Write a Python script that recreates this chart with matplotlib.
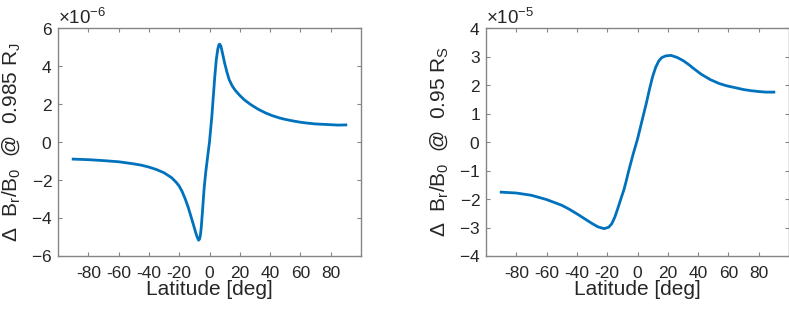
import numpy as np
import matplotlib
matplotlib.use('Agg')
import matplotlib.pyplot as plt
from matplotlib.ticker import ScalarFormatter

plt.rcParams['font.family'] = ['Liberation Sans', 'DejaVu Sans']
plt.rcParams['mathtext.fontset'] = 'custom'
plt.rcParams['mathtext.rm'] = 'Liberation Sans'
plt.rcParams['mathtext.it'] = 'Liberation Sans'
plt.rcParams['mathtext.default'] = 'regular'
plt.rcParams['axes.unicode_minus'] = False

LINE_COL = '#0072BD'
SPINE_COL = '#858585'
TEXT_COL = '#262626'

# Jupiter, dBr/B0 at 0.985 RJ (units of 1e-6)
lat_j = [-90, -80, -70, -60, -50, -45, -40, -35, -30, -25, -22, -20, -18, -16,
         -14, -12, -10, -9, -8, -7.2, -6.5, -6, -5.5, -4.5, -3.5, -2.5, -1.5,
         -0.5, 0, 0.5, 1.5, 2.5, 3.5, 4.5, 5.5, 6.2, 6.7, 7.5, 8.5, 10, 11.5,
         13, 15, 17, 20, 23, 27, 32, 37, 41, 46, 50, 55, 60, 65, 70, 75, 80,
         85, 90]
dbr_j = [-0.90, -0.93, -0.98, -1.04, -1.15, -1.22, -1.32, -1.45, -1.62, -1.88,
         -2.12, -2.32, -2.62, -3.00, -3.45, -3.98, -4.52, -4.80, -5.03, -5.17,
         -5.10, -4.90, -4.55, -3.50, -2.40, -1.60, -0.95, -0.30, 0.0, 0.45,
         1.30, 2.38, 3.45, 4.35, 4.90, 5.12, 5.15, 5.05, 4.70, 4.15, 3.68,
         3.28, 2.95, 2.72, 2.45, 2.22, 1.98, 1.73, 1.53, 1.40, 1.27, 1.19,
         1.11, 1.04, 0.99, 0.95, 0.93, 0.91, 0.89, 0.90]

# Saturn, dBr/B0 at 0.95 RS (units of 1e-5)
lat_s = [-90, -80, -70, -60, -50, -45, -40, -35, -30, -26, -22, -19, -17, -15,
         -13, -11, -9, -7.5, -6, -3, 0, 3, 6, 8, 10, 12, 14, 16, 18.5, 22, 26,
         30, 34, 37, 42, 48, 54, 59, 65, 70, 75, 80, 85, 90]
dbr_s = [-1.76, -1.79, -1.87, -2.02, -2.22, -2.36, -2.52, -2.69, -2.86, -2.98,
         -3.04, -2.99, -2.87, -2.64, -2.33, -2.00, -1.68, -1.38, -1.05, -0.45,
         0.10, 0.75, 1.40, 1.87, 2.30, 2.62, 2.84, 2.96, 3.02, 3.04, 2.97,
         2.86, 2.71, 2.58, 2.38, 2.19, 2.05, 1.97, 1.90, 1.84, 1.80, 1.77,
         1.75, 1.75]

panels = [
    (lat_j, np.array(dbr_j) * 1e-6, 6e-6, 2e-6, 'Δ  B$_r$/B$_0$  @  0.985 R$_J$'),
    (lat_s, np.array(dbr_s) * 1e-5, 4e-5, 1e-5, 'Δ  B$_r$/B$_0$  @  0.95 R$_S$'),
]

fig = plt.figure(figsize=(7.89, 3.10), dpi=100)
lefts = [58 / 789, 486 / 789]

for left, (lat, dbr, ymax, ystep, ylab) in zip(lefts, panels):
    ax = fig.add_axes([left, 54 / 310, 303 / 789, 228 / 310])
    ax.plot(lat, dbr, color=LINE_COL, linewidth=2.0)
    ax.set_xlim(-100, 100)
    ax.set_ylim(-ymax, ymax)
    ax.set_xticks(np.arange(-80, 81, 20))
    ax.set_yticks(np.arange(-ymax, ymax + ystep / 2, ystep))

    fmt = ScalarFormatter(useMathText=True)
    fmt.set_powerlimits((0, 0))
    ax.yaxis.set_major_formatter(fmt)
    ax.yaxis.get_offset_text().set_fontsize(13.5)
    ax.yaxis.get_offset_text().set_color(TEXT_COL)

    for sp in ax.spines.values():
        sp.set_color(SPINE_COL)
        sp.set_linewidth(1.0)
    ax.tick_params(direction='in', length=3, width=0.8, color=SPINE_COL,
                   labelcolor=TEXT_COL, labelsize=12.5, top=True, right=True)
    ax.tick_params(axis='x', pad=7)
    ax.tick_params(axis='y', pad=4)

    ax.set_xlabel('Latitude [deg]', fontsize=15, color=TEXT_COL, va='top')
    ax.xaxis.set_label_coords(0.5, -0.105)
    ax.set_ylabel(ylab, fontsize=15, color=TEXT_COL)
    ax.yaxis.set_label_coords(-0.12, 0.5)

fig.savefig('out.png', dpi=100)
